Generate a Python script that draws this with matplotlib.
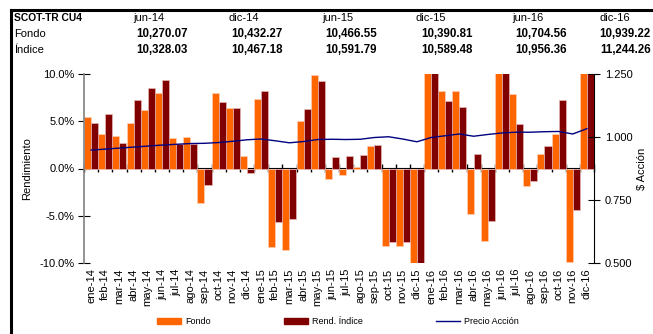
import numpy as np
import matplotlib.pyplot as plt
from matplotlib.patches import Patch
from matplotlib.lines import Line2D
from matplotlib.ticker import FormatStrFormatter, FuncFormatter

plt.rcParams['font.family'] = ['Liberation Sans', 'DejaVu Sans']

meses = ['ene-14', 'feb-14', 'mar-14', 'abr-14', 'may-14', 'jun-14', 'jul-14', 'ago-14',
         'sep-14', 'oct-14', 'nov-14', 'dic-14', 'ene-15', 'feb-15', 'mar-15', 'abr-15',
         'may-15', 'jun-15', 'jul-15', 'ago-15', 'sep-15', 'oct-15', 'nov-15', 'dic-15',
         'ene-16', 'feb-16', 'mar-16', 'abr-16', 'may-16', 'jun-16', 'jul-16', 'ago-16',
         'sep-16', 'oct-16', 'nov-16', 'dic-16']

# rendimiento mensual (%)
fondo = [5.4, 3.7, 3.45, 4.85, 6.15, 7.95, 3.25, 3.35, -3.6, 7.95, 6.4, 1.35,
         7.4, -8.3, -8.65, 5.05, 9.85, -1.15, -0.7, 0.2, 2.35, -8.25,
         -8.25, -10.6, 10.6, 8.2, 8.2, -4.85, -7.7, 10.5, 7.85, -1.9,
         1.55, 3.7, -9.9, 10.6]
indice = [4.85, 5.75, 2.65, 7.3, 8.5, 9.4, 2.55, 2.6, -1.7, 7.05, 6.4, -0.45,
          8.2, -5.65, -5.3, 6.25, 9.3, 1.2, 1.3, 1.45, 2.45, -7.75,
          -7.75, -10.5, 10.4, 7.15, 6.5, 1.55, -5.6, 10.4, 4.75, -1.3,
          2.4, 7.2, -4.4, 10.4]

# precio de la accion ($)
precio = [0.948, 0.952, 0.956, 0.960, 0.964, 0.968, 0.971, 0.974, 0.975, 0.978,
          0.983, 0.989, 0.992, 0.985, 0.977, 0.982, 0.990, 0.991, 0.990, 0.991,
          0.998, 1.001, 0.992, 0.981, 0.998, 1.005, 1.012, 1.003, 1.010, 1.016,
          1.019, 1.019, 1.021, 1.022, 1.012, 1.033]

fechas_tabla = ['jun-14', 'dic-14', 'jun-15', 'dic-15', 'jun-16', 'dic-16']
valor_fondo = ['10,270.07', '10,432.27', '10,466.55', '10,390.81', '10,704.56', '10,939.22']
valor_indice = ['10,328.03', '10,467.18', '10,591.79', '10,589.48', '10,956.36', '11,244.26']

naranja = '#ff6600'
granate = '#800000'
azul = '#000080'

W, H = 653, 334
fig = plt.figure(figsize=(W / 100, H / 100), dpi=100)


def fx(px):
    return px / W


def fy(py):
    return 1 - py / H


# marco
fig.add_artist(Line2D([fx(11), fx(11)], [fy(10), 0], color='black', lw=2.2))
fig.add_artist(Line2D([fx(11), 1], [fy(10), fy(10)], color='black', lw=2.2))

# tabla superior
fig.text(fx(14), fy(18), 'SCOT-TR CU4', fontsize=7.4, fontweight='bold', va='center')
fig.text(fx(14), fy(34), 'Fondo', fontsize=8, va='center')
fig.text(fx(14), fy(50), 'Índice', fontsize=8, va='center')
col_izq = [133, 228, 322, 416, 512, 600]
col_der = [188, 283, 377, 473, 567, 651]
for f, vf, vi, xi, xd in zip(fechas_tabla, valor_fondo, valor_indice, col_izq, col_der):
    fig.text(fx(xi), fy(18), f, fontsize=8, va='center')
    fig.text(fx(xd), fy(34), vf, fontsize=8.3, fontweight='bold', va='center', ha='right')
    fig.text(fx(xd), fy(50), vi, fontsize=8.3, fontweight='bold', va='center', ha='right')

ax = fig.add_axes([fx(84), fy(263), fx(594) - fx(84), fy(74) - fy(263)])
x = np.arange(len(meses))
ax.bar(x, fondo, width=0.5, align='edge', color=naranja, edgecolor='#ffcfb8', linewidth=0.5, zorder=2)
ax.bar(x + 0.5, indice, width=0.5, align='edge', color=granate, edgecolor='#e8b8b8', linewidth=0.5, zorder=2)
ax.set_xlim(0, len(meses))
ax.set_ylim(-10, 10)
ax.set_yticks([-10, -5, 0, 5, 10])
ax.yaxis.set_major_formatter(FuncFormatter(lambda v, p: f'{v:.1f}%'))
ax.tick_params(axis='y', direction='inout', length=8, labelsize=8, color='black', pad=3)
ax.set_ylabel('Rendimiento', fontsize=8, labelpad=5)

ax.set_xticks(x + 0.5)
ax.set_xticklabels(meses, rotation=90, fontsize=8)
ax.tick_params(axis='x', length=0, pad=4)

for s in ['top', 'right', 'bottom']:
    ax.spines[s].set_visible(False)
ax.spines['left'].set_color('#808080')
ax.spines['left'].set_linewidth(1.2)

# eje en cero con marcas entre meses
eje0 = ax.secondary_xaxis(0.5)
eje0.set_xticks(np.arange(len(meses) + 1))
eje0.set_xticklabels([])
eje0.tick_params(direction='inout', length=6, width=1, color='black')
eje0.spines['bottom'].set_color('black')
eje0.spines['bottom'].set_linewidth(1.4)
eje0.spines['bottom'].set_zorder(3)

ax2 = ax.twinx()
ax2.plot(x + 0.5, precio, color=azul, lw=1, zorder=4)
ax2.set_ylim(0.5, 1.25)
ax2.set_yticks([0.5, 0.75, 1.0, 1.25])
ax2.yaxis.set_major_formatter(FormatStrFormatter('%.3f'))
ax2.tick_params(axis='y', direction='inout', length=8, labelsize=8, pad=4)
ax2.set_ylabel('$ Acción', fontsize=8, rotation=90, labelpad=3)
for s in ['top', 'left', 'bottom']:
    ax2.spines[s].set_visible(False)
ax2.spines['right'].set_color('black')

handles = [Patch(color=naranja, label='Fondo'),
           Patch(color=granate, label='Rend. Índice'),
           Line2D([], [], color=azul, lw=1, label='Precio Acción')]
fig.legend(handles=handles, loc='center', bbox_to_anchor=(fx(338), fy(322)), ncol=3,
           frameon=False, fontsize=6.5, handlelength=2.7, handleheight=0.6,
           columnspacing=8, handletextpad=0.5)

fig.savefig('out.png', dpi=100)
